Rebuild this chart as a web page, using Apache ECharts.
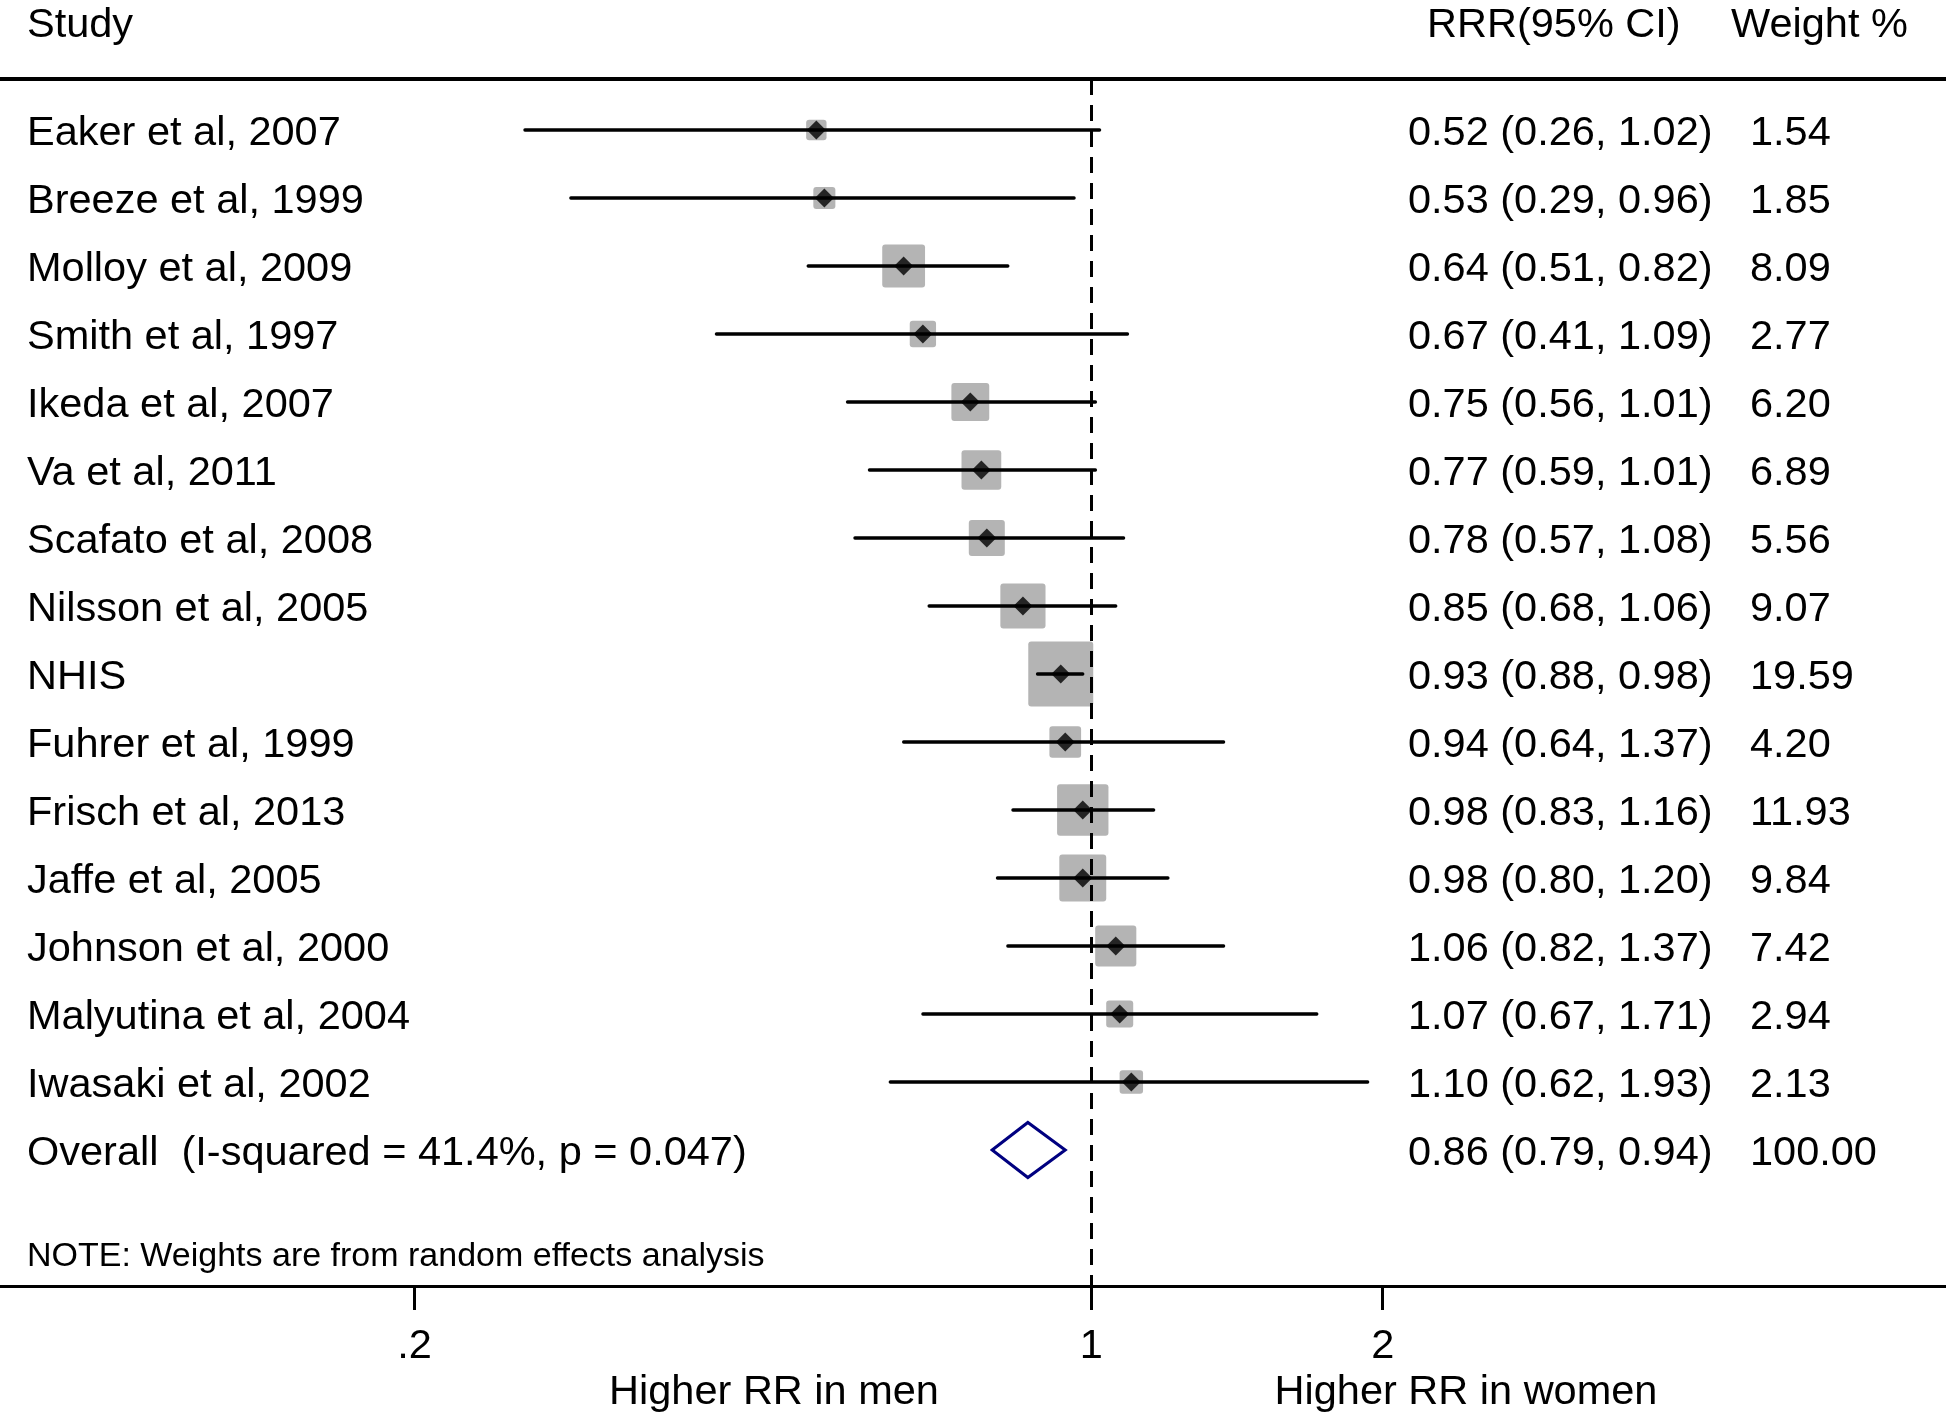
<!DOCTYPE html>
<html>
<head>
<meta charset="utf-8">
<script src="https://cdn.jsdelivr.net/npm/echarts@6/dist/echarts.min.js"></script>
<style>
html,body{margin:0;padding:0;background:#fff;}
#chart{width:1946px;height:1417px;}
</style>
</head>
<body>
<div id="chart"></div>
<script>
// ---- Data ----
const studies = ['Eaker et al, 2007','Breeze et al, 1999','Molloy et al, 2009','Smith et al, 1997','Ikeda et al, 2007','Va et al, 2011','Scafato et al, 2008','Nilsson et al, 2005','NHIS','Fuhrer et al, 1999','Frisch et al, 2013','Jaffe et al, 2005','Johnson et al, 2000','Malyutina et al, 2004','Iwasaki et al, 2002'];
const rrr    = [0.52,0.53,0.64,0.67,0.75,0.77,0.78,0.85,0.93,0.94,0.98,0.98,1.06,1.07,1.10];
const lower  = [0.26,0.29,0.51,0.41,0.56,0.59,0.57,0.68,0.88,0.64,0.83,0.80,0.82,0.67,0.62];
const upper  = [1.02,0.96,0.82,1.09,1.01,1.01,1.08,1.06,0.98,1.37,1.16,1.20,1.37,1.71,1.93];
const weights = [1.54,1.85,8.09,2.77,6.20,6.89,5.56,9.07,19.59,4.20,11.93,9.84,7.42,2.94,2.13];
const overallLabel = 'Overall  (I-squared = 41.4%, p = 0.047)';
const overallRRR = 0.86, overallLower = 0.79, overallUpper = 0.94, overallWeight = 100.00;
const tickValues = [0.2, 1, 2];
const tickLabels = ['.2', '1', '2'];
const headers = ['Study', 'RRR(95% CI)', 'Weight %'];
const note = 'NOTE: Weights are from random effects analysis';
const sideLabels = ['Higher RR in men', 'Higher RR in women'];

// ---- Derived ----
const FONT = "'Liberation Sans', Arial, Helvetica, sans-serif";
const FS = 41.5;
const TY = 4; // vertical text offset
const nStudies = studies.length;
const overallRow = nStudies;
const textRows = studies.map((s, i) => ({
  label: s,
  ci: rrr[i].toFixed(2) + ' (' + lower[i].toFixed(2) + ', ' + upper[i].toFixed(2) + ')',
  w: weights[i].toFixed(2)
}));
textRows.push({
  label: overallLabel,
  ci: overallRRR.toFixed(2) + ' (' + overallLower.toFixed(2) + ', ' + overallUpper.toFixed(2) + ')',
  w: overallWeight.toFixed(2)
});

const X_MIN = 0.074593, X_MAX = 7.6378;

const chart = echarts.init(document.getElementById('chart'), null, {renderer: 'canvas'});

function txt(x, y, s, size, align) {
  return {type: 'text', x: x, y: y, style: {text: s, fill: '#000', font: (size || FS) + 'px ' + FONT, textAlign: align || 'left', textVerticalAlign: 'middle'}};
}

const option = {
  backgroundColor: '#fff',
  animation: false,
  grid: {left: 0, right: 0, top: 79, bottom: 131, containLabel: false},
  xAxis: [{
    type: 'log', logBase: 10, min: X_MIN, max: X_MAX, position: 'bottom',
    axisLine: {show: true, onZero: false, lineStyle: {color: '#000', width: 3}},
    axisTick: {show: true, length: 24, lineStyle: {color: '#000', width: 3}, customValues: tickValues},
    axisLabel: {show: true, margin: 40, fontSize: FS, fontFamily: FONT, color: '#000', customValues: tickValues,
      formatter: function (v) { const k = tickValues.findIndex(t => Math.abs(t - v) < 1e-6); return k >= 0 ? tickLabels[k] : ''; }},
    splitLine: {show: false}, minorTick: {show: false}
  }, {
    type: 'log', logBase: 10, min: X_MIN, max: X_MAX, position: 'top',
    axisLine: {show: true, onZero: false, lineStyle: {color: '#000', width: 4}},
    axisTick: {show: false}, axisLabel: {show: false}, splitLine: {show: false}
  }],
  yAxis: {type: 'value', inverse: true, min: -0.75, max: 17, show: false},
  series: [
    {
      // reference line at 1
      type: 'line', data: [], z: 1,
      markLine: {
        silent: true, symbol: ['none', 'none'], label: {show: false},
        lineStyle: {color: '#000', width: 3, type: [16, 10]},
        data: [{xAxis: 1}]
      }
    },
    {
      // weight boxes
      type: 'custom', z: 2,
      data: rrr.map((v, i) => [v, i, weights[i]]),
      encode: {x: 0, y: 1},
      renderItem: function (params, api) {
        const c = api.coord([api.value(0), api.value(1)]);
        const s = 14 * Math.sqrt(api.value(2)) + 3;
        return {type: 'rect', shape: {x: c[0] - s / 2, y: c[1] - s / 2, width: s, height: s, r: 3},
          style: {fill: '#b4b4b4'}};
      }
    },
    {
      // confidence intervals
      type: 'custom', z: 3,
      data: lower.map((v, i) => [v, upper[i], i]),
      encode: {x: [0, 1], y: 2},
      renderItem: function (params, api) {
        const a = api.coord([api.value(0), api.value(2)]);
        const b = api.coord([api.value(1), api.value(2)]);
        return {type: 'line', shape: {x1: a[0], y1: a[1], x2: b[0], y2: b[1]},
          style: {stroke: '#000', lineWidth: 3.3, lineCap: 'round'}};
      }
    },
    {
      // point estimates
      type: 'scatter', z: 4,
      data: rrr.map((v, i) => [v, i]),
      symbol: 'diamond', symbolSize: 19,
      itemStyle: {color: '#000'}
    },
    {
      // overall diamond
      type: 'custom', z: 4,
      data: [[overallLower, overallRRR, overallUpper, overallRow]],
      encode: {x: [0, 1, 2], y: 3},
      renderItem: function (params, api) {
        const l = api.coord([api.value(0), api.value(3)]);
        const m = api.coord([api.value(1), api.value(3)]);
        const r = api.coord([api.value(2), api.value(3)]);
        const h = 27.5;
        return {type: 'polygon', shape: {points: [[l[0], l[1]], [m[0], m[1] - h], [r[0], r[1]], [m[0], m[1] + h]]},
          style: {fill: 'none', stroke: '#000080', lineWidth: 3, lineJoin: 'miter'}};
      }
    },
    {
      // text columns
      type: 'custom', z: 5,
      data: textRows.map((r, i) => [1, i]),
      encode: {x: 0, y: 1},
      renderItem: function (params, api) {
        const y = api.coord([1, api.value(1)])[1] + TY;
        const r = textRows[params.dataIndex];
        return {type: 'group', children: [
          txt(27, y, r.label), txt(1408, y, r.ci), txt(1750, y, r.w)
        ]};
      }
    }
  ],
  graphic: [
    txt(27, 26, headers[0]),
    txt(1427, 26, headers[1]),
    txt(1731, 26, headers[2]),
    txt(27, 1257, note, 34),
    txt(774, 1393, sideLabels[0], FS, 'center'),
    txt(1466, 1393, sideLabels[1], FS, 'center')
  ]
};
chart.setOption(option);
</script>
</body>
</html>
